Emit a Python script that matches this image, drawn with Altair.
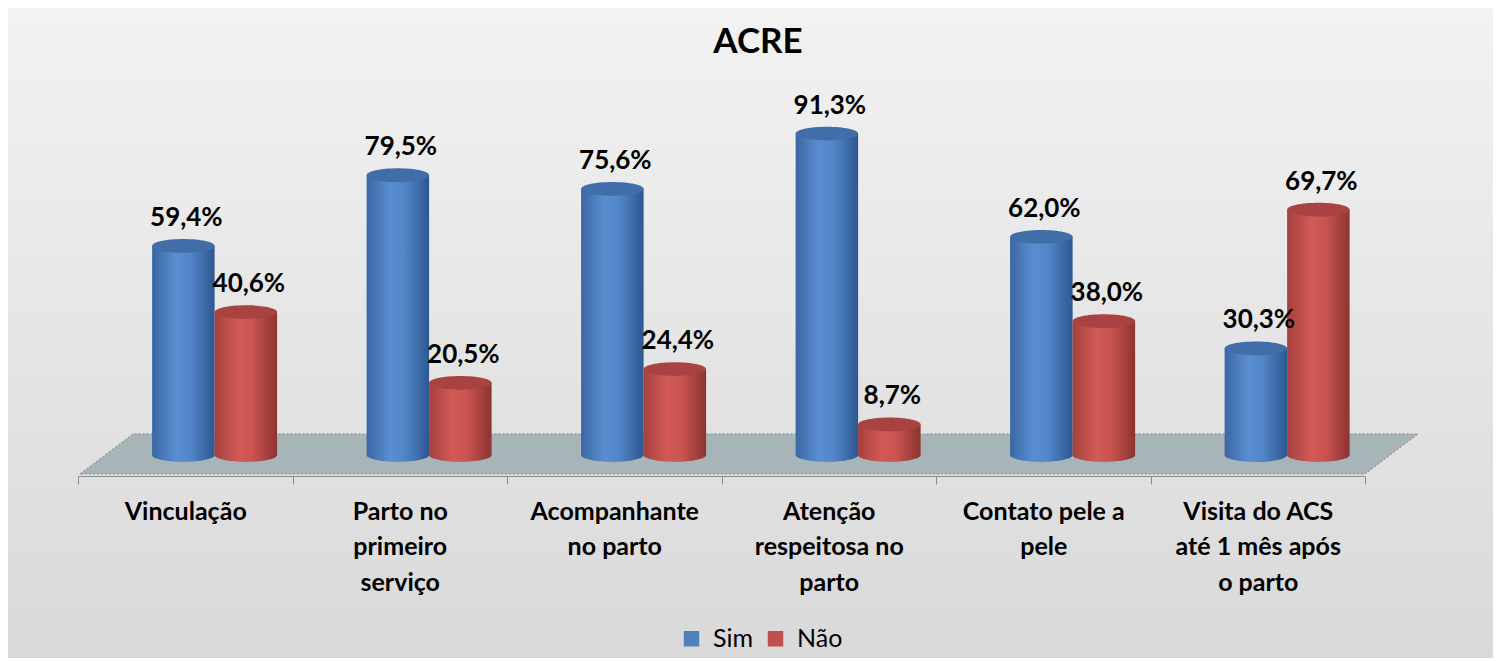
import altair as alt
import pandas as pd

# ---- data ----
categorias = [
    "Vinculação",
    "Parto no|primeiro|serviço",
    "Acompanhante|no parto",
    "Atenção|respeitosa no|parto",
    "Contato pele a|pele",
    "Visita do ACS|até 1 mês após|o parto",
]
sim = [59.4, 79.5, 75.6, 91.3, 62.0, 30.3]
nao = [40.6, 20.5, 24.4, 8.7, 38.0, 69.7]
series = ["Sim", "Não"]
cores = ["#4f81bd", "#c0504d"]
titulo = "ACRE"

rows = []
for c, s, n in zip(categorias, sim, nao):
    rows.append({"cat": c, "serie": "Sim", "v": s})
    rows.append({"cat": c, "serie": "Não", "v": n})
df = pd.DataFrame(rows)
one = pd.DataFrame({"k": [0]})

# ---- geometry ----
W, H = 1287, 352
PL, PT, PR, PB = 70, 95, 128, 203
BAR = 62.5
FONT = "Lato"

x_enc = alt.X(
    "cat:N",
    sort=categorias,
    title=None,
    scale=alt.Scale(paddingInner=0, paddingOuter=0),
    axis=alt.Axis(
        labelExpr="split(datum.label, '|')",
        labelAngle=0,
        labelFont=FONT,
        labelFontWeight="bold",
        labelFontSize=25,
        labelColor="#000000",
        labelLineHeight=35.5,
        labelBaseline="top",
        labelPadding=15,
        labelLimit=400,
        labelOverlap=False,
        labelFlush=False,
        domainColor="#8c8c8c",
        tickColor="#8c8c8c",
        tickSize=8,
        tickBand="extent",
        offset=21,
        zindex=1,
        grid=False,
    ),
)
xo_enc = alt.XOffset(
    "serie:N",
    scale=alt.Scale(domain=["_", "Sim", "Não"], paddingInner=0, paddingOuter=0.216, align=0.43),
)
y_scale = alt.Scale(domain=[0, 100])
y_enc = alt.Y("v:Q", scale=y_scale, axis=None)
y0_enc = alt.Y("z:Q", scale=y_scale, axis=None)


def grad(stops, vertical=False):
    return alt.LinearGradient(
        gradient="linear",
        x1=0, x2=0 if vertical else 1, y1=0, y2=1 if vertical else 0,
        stops=[alt.GradientStop(offset=o, color=c) for o, c in stops],
    )


fills = {
    "Sim": grad([(0, "#3a67a2"), (0.38, "#5a8ed2"), (0.6, "#5286c8"), (1, "#2d5891")]),
    "Não": grad([(0, "#a5403d"), (0.38, "#d25a57"), (0.6, "#ca5451"), (1, "#8c3431")]),
}
cap = {"Sim": "#416ea8", "Não": "#a84341"}

ellipse = "M-1,0 A1,0.22,0,1,1,1,0 A1,0.22,0,1,1,-1,0 Z"

base = alt.Chart(df)

# background
bg = alt.Chart(one).mark_rect(
    color=grad([(0, "#f2f2f2"), (1, "#d9d9d9")], vertical=True)
).encode(
    x=alt.value(-PL), x2=alt.value(W + PR), y=alt.value(-PT), y2=alt.value(H + PB)
)

# floor
hh = 20 / 669
floor_path = f"M-1,{hh:.4f} L-0.921,{-hh:.4f} L1,{-hh:.4f} L0.921,{hh:.4f} Z"
floor = alt.Chart(one).mark_point(
    shape=floor_path, size=1338 ** 2, filled=True, fill="#a7b5b9",
    stroke="#8a8a8a", strokeWidth=1, strokeDash=[2, 2], opacity=1,
).encode(x=alt.value(671), y=alt.value(351))

layers = [bg, floor]
for s in series:
    sub = base.transform_filter(alt.datum.serie == s)
    bottom = sub.transform_calculate(z="0").mark_point(
        shape=ellipse, size=BAR ** 2, filled=True, color=fills[s], opacity=1, strokeWidth=0
    ).encode(x=x_enc, xOffset=xo_enc, y=y0_enc)
    bar = sub.mark_bar(color=fills[s]).encode(x=x_enc, xOffset=xo_enc, y=y_enc)
    top = sub.mark_point(
        shape=ellipse, size=BAR ** 2, filled=True, color=cap[s], opacity=1, strokeWidth=0
    ).encode(x=x_enc, xOffset=xo_enc, y=y_enc)
    layers += [bottom, bar, top]

labels = base.transform_calculate(
    lab="replace(format(datum.v, '.1f'), '.', ',') + '%'"
).mark_text(
    font=FONT, fontWeight="bold", fontSize=26, color="#000000",
    baseline="alphabetic", dy=-20, dx=3,
).encode(x=x_enc, xOffset=xo_enc, y=y_enc, text="lab:N")

legend_layer = base.mark_square(opacity=0, filled=True, size=1).encode(
    x=x_enc, xOffset=xo_enc, y=y_enc,
    color=alt.Color(
        "serie:N",
        scale=alt.Scale(domain=series, range=cores),
        legend=alt.Legend(
            orient="none", legendX=601, legendY=523, direction="horizontal",
            title=None, symbolType="square", symbolSize=240, symbolOpacity=1,
            symbolStrokeWidth=0, labelFont=FONT, labelFontSize=25,
            labelColor="#000000", labelOffset=9, columnPadding=9, padding=0,
        ),
    ),
)

title_layer = alt.Chart(one).mark_text(
    font=FONT, fontWeight="bold", fontSize=35, color="#000000",
    baseline="alphabetic", align="center",
).encode(x=alt.value(680), y=alt.value(-50), text=alt.value(titulo))

layers += [labels, legend_layer, title_layer]

chart = alt.layer(*layers).properties(
    width=W, height=H,
    autosize=alt.AutoSizeParams(type="none"),
    padding={"left": PL, "top": PT, "right": PR, "bottom": PB},
    background="white",
).configure_view(stroke=None)

chart.save("out.html", embed_options={"renderer": "svg", "actions": False})
